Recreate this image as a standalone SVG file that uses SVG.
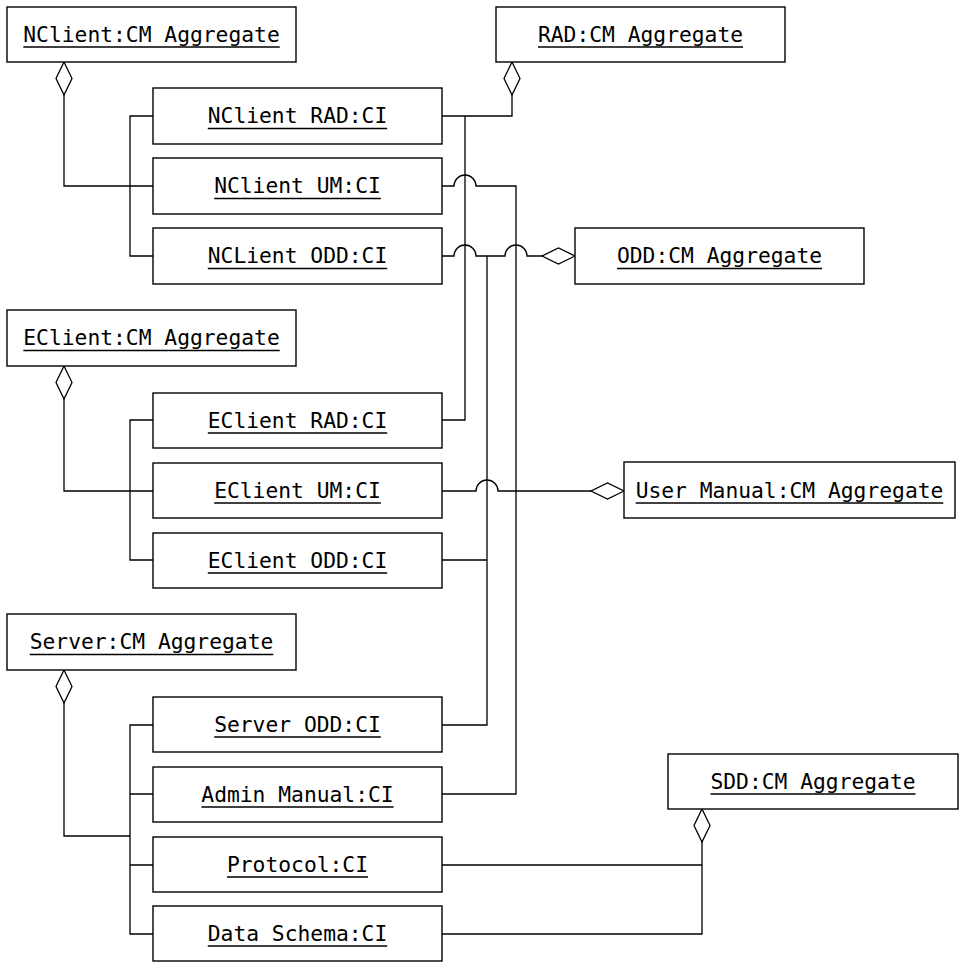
<svg xmlns="http://www.w3.org/2000/svg" width="959" height="962" viewBox="0 0 959 962">
<style>
.box{fill:#fff;stroke:#000;stroke-width:1.4}
.lbl{font-family:"DejaVu Sans Mono","Liberation Mono",monospace;font-size:21.3px;fill:#000;text-anchor:middle}
.ul{stroke:#000;stroke-width:1.3}
.conn path{fill:none;stroke:#000;stroke-width:1.3}
</style>
<defs>
<marker id="dia" markerUnits="userSpaceOnUse" markerWidth="36" markerHeight="20" viewBox="-1 -10 36 20" refX="0" refY="0" orient="auto" overflow="visible">
<path d="M0,0 L16.5,-8 L33,0 L16.5,8 Z" fill="#fff" stroke="#000" stroke-width="1.3"/>
</marker>
</defs>
<rect width="959" height="962" fill="#fff"/>

<g id="connectors" class="conn">
<path d="M64,62 V186 H153" marker-start="url(#dia)"/>
<path d="M153,116 H130 V256 H153"/>
<path d="M64,366 V491 H153" marker-start="url(#dia)"/>
<path d="M153,420 H130 V560 H153"/>
<path d="M64,670 V836 H130" marker-start="url(#dia)"/>
<path d="M153,725 H130 V934 H153 M130,794 H153 M130,865 H153"/>
<path d="M512,62 V116 H442" marker-start="url(#dia)"/>
<path d="M442,420 H465 V116"/>
<path d="M575,256 H527 A11,11 0 0 0 505,256 H476 A11,11 0 0 0 454,256 H442" marker-start="url(#dia)"/>
<path d="M487,256 V725 H442 M487,560 H442"/>
<path d="M624,491 H498 A11,11 0 0 0 476,491 H442" marker-start="url(#dia)"/>
<path d="M442,186 H454 A11,11 0 0 1 476,186 H516 V794 H442"/>
<path d="M702,809 V934 H442" marker-start="url(#dia)"/>
<path d="M702,865 H442"/>
</g>

<g id="nclient-agg"><rect class="box" x="7" y="7" width="289" height="55"/><text class="lbl" x="151.5" y="41.5">NClient:CM Aggregate</text><line class="ul" x1="23.3" y1="47" x2="279.7" y2="47"/></g>
<g id="rad-agg"><rect class="box" x="496" y="7" width="289" height="55"/><text class="lbl" x="640.5" y="41.5">RAD:CM Aggregate</text><line class="ul" x1="538" y1="47" x2="743" y2="47"/></g>
<g id="nclient-rad"><rect class="box" x="153" y="88" width="289" height="56"/><text class="lbl" x="297.5" y="123">NClient RAD:CI</text><line class="ul" x1="207.8" y1="128.5" x2="387.2" y2="128.5"/></g>
<g id="nclient-um"><rect class="box" x="153" y="158" width="289" height="56"/><text class="lbl" x="297.5" y="193">NClient UM:CI</text><line class="ul" x1="214.2" y1="198.5" x2="380.8" y2="198.5"/></g>
<g id="nclient-odd"><rect class="box" x="153" y="228" width="289" height="56"/><text class="lbl" x="297.5" y="263">NCLient ODD:CI</text><line class="ul" x1="207.8" y1="268.5" x2="387.2" y2="268.5"/></g>
<g id="odd-agg"><rect class="box" x="575" y="228" width="289" height="56"/><text class="lbl" x="719.5" y="263">ODD:CM Aggregate</text><line class="ul" x1="617" y1="268.5" x2="822" y2="268.5"/></g>
<g id="eclient-agg"><rect class="box" x="7" y="310" width="289" height="56"/><text class="lbl" x="151.5" y="345">EClient:CM Aggregate</text><line class="ul" x1="23.3" y1="350.5" x2="279.7" y2="350.5"/></g>
<g id="eclient-rad"><rect class="box" x="153" y="393" width="289" height="55"/><text class="lbl" x="297.5" y="427.5">EClient RAD:CI</text><line class="ul" x1="207.8" y1="433" x2="387.2" y2="433"/></g>
<g id="eclient-um"><rect class="box" x="153" y="463" width="289" height="55"/><text class="lbl" x="297.5" y="497.5">EClient UM:CI</text><line class="ul" x1="214.2" y1="503" x2="380.8" y2="503"/></g>
<g id="eclient-odd"><rect class="box" x="153" y="533" width="289" height="55"/><text class="lbl" x="297.5" y="567.5">EClient ODD:CI</text><line class="ul" x1="207.8" y1="573" x2="387.2" y2="573"/></g>
<g id="um-agg"><rect class="box" x="624" y="462" width="331" height="56"/><text class="lbl" x="789.5" y="497.5">User Manual:CM Aggregate</text><line class="ul" x1="635.7" y1="503" x2="943.3" y2="503"/></g>
<g id="server-agg"><rect class="box" x="7" y="614" width="289" height="56"/><text class="lbl" x="151.5" y="649">Server:CM Aggregate</text><line class="ul" x1="29.7" y1="654.5" x2="273.3" y2="654.5"/></g>
<g id="server-odd"><rect class="box" x="153" y="697" width="289" height="55"/><text class="lbl" x="297.5" y="731.5">Server ODD:CI</text><line class="ul" x1="214.2" y1="737" x2="380.8" y2="737"/></g>
<g id="admin-manual"><rect class="box" x="153" y="767" width="289" height="55"/><text class="lbl" x="297.5" y="801.5">Admin Manual:CI</text><line class="ul" x1="201.4" y1="807" x2="393.6" y2="807"/></g>
<g id="protocol"><rect class="box" x="153" y="837" width="289" height="55"/><text class="lbl" x="297.5" y="871.5">Protocol:CI</text><line class="ul" x1="227" y1="877" x2="368" y2="877"/></g>
<g id="data-schema"><rect class="box" x="153" y="906" width="289" height="55"/><text class="lbl" x="297.5" y="940.5">Data Schema:CI</text><line class="ul" x1="207.8" y1="946" x2="387.2" y2="946"/></g>
<g id="sdd-agg"><rect class="box" x="668" y="754" width="290" height="55"/><text class="lbl" x="813" y="788.5">SDD:CM Aggregate</text><line class="ul" x1="710.5" y1="794" x2="915.5" y2="794"/></g>
</svg>
